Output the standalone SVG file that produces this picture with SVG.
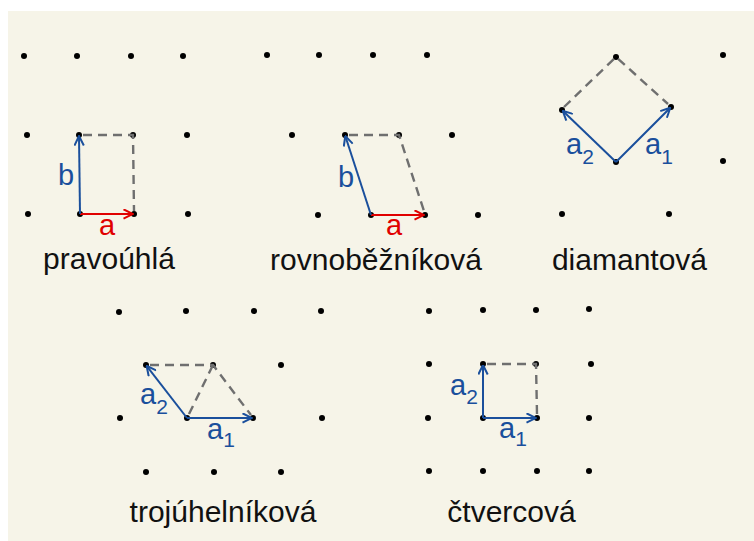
<svg xmlns="http://www.w3.org/2000/svg" width="754" height="541" viewBox="0 0 754 541">
<defs>
<style>
.bg{fill:#f6f4e8}
.dot{fill:#000}
.dash{stroke:#6f6f6f;stroke-width:2.4;stroke-dasharray:9 6;fill:none}
.vb{stroke:#1a4f9c;stroke-width:2;fill:none;marker-end:url(#ab)}
.vr{stroke:#e00000;stroke-width:2;fill:none;marker-end:url(#ar)}
.title{font-family:"Liberation Sans",Arial,sans-serif;font-size:30px;fill:#111;text-anchor:middle}
.lb{font-family:"Liberation Sans",Arial,sans-serif;font-size:29px;fill:#1a4f9c}
.lr{font-family:"Liberation Sans",Arial,sans-serif;font-size:29px;fill:#e00000}
.sub{font-size:21px}
</style>
<marker id="ab" viewBox="0 0 11 11" refX="10.5" refY="5.5" markerWidth="11" markerHeight="11" markerUnits="userSpaceOnUse" orient="auto">
<path d="M1,0.8 L10.5,5.5 L1,10.2" fill="none" stroke="#1a4f9c" stroke-width="2"/>
</marker>
<marker id="ar" viewBox="0 0 11 11" refX="10.5" refY="5.5" markerWidth="11" markerHeight="11" markerUnits="userSpaceOnUse" orient="auto">
<path d="M1,0.8 L10.5,5.5 L1,10.2" fill="none" stroke="#e00000" stroke-width="2"/>
</marker>
</defs>
<rect class="bg" x="8" y="11" width="746" height="530"/>

<g id="pravouhla">
<g class="dot">
<circle cx="24" cy="56" r="3"/><circle cx="77" cy="56" r="3"/><circle cx="131" cy="56" r="3"/><circle cx="183" cy="56" r="3"/>
<circle cx="27" cy="135" r="3"/><circle cx="79" cy="135" r="3"/><circle cx="133" cy="135" r="3"/><circle cx="187" cy="135" r="3"/>
<circle cx="28" cy="214" r="3"/><circle cx="80" cy="214" r="3"/><circle cx="134" cy="214" r="3"/><circle cx="188" cy="214" r="3"/>
</g>
<path class="dash" d="M83,135 L133,135 L134,211"/>
<path class="vr" d="M80,214 L133,214"/>
<path class="vb" d="M80,214 L79,136"/>
<text class="lb" x="58" y="185">b</text>
<text class="lr" x="99" y="235">a</text>
<text class="title" x="109" y="269">pravoúhlá</text>
</g>

<g id="rovnobeznikova">
<g class="dot">
<circle cx="267" cy="55" r="3"/><circle cx="319" cy="55" r="3"/><circle cx="373" cy="55" r="3"/><circle cx="427" cy="55" r="3"/>
<circle cx="292" cy="135" r="3"/><circle cx="345" cy="135" r="3"/><circle cx="399" cy="135" r="3"/><circle cx="452" cy="135" r="3"/>
<circle cx="318" cy="215" r="3"/><circle cx="371" cy="215" r="3"/><circle cx="425" cy="215" r="3"/><circle cx="478" cy="215" r="3"/>
</g>
<path class="dash" d="M349,135 L399,135 L424,211"/>
<path class="vr" d="M371,215 L424,215"/>
<path class="vb" d="M371,215 L345.3,136"/>
<text class="lb" x="338" y="187">b</text>
<text class="lr" x="386" y="235">a</text>
<text class="title" x="376" y="270">rovnoběžníková</text>
</g>

<g id="diamantova">
<g class="dot">
<circle cx="616" cy="57" r="3"/><circle cx="723" cy="55" r="3"/>
<circle cx="562" cy="110" r="3"/><circle cx="671" cy="107" r="3"/>
<circle cx="616" cy="162" r="3"/><circle cx="723" cy="161" r="3"/>
<circle cx="562" cy="214" r="3"/><circle cx="669" cy="214" r="3"/>
</g>
<path class="dash" d="M564,107 L616,57 L668,104"/>
<path class="vb" d="M616,162 L670.3,107.7"/>
<path class="vb" d="M616,162 L562.7,110.7"/>
<text class="lb" x="566" y="154">a<tspan class="sub" dy="10">2</tspan></text>
<text class="lb" x="645" y="154">a<tspan class="sub" dy="10">1</tspan></text>
<text class="title" x="629.5" y="270">diamantová</text>
</g>

<g id="trojuhelnikova">
<g class="dot">
<circle cx="119" cy="312" r="3"/><circle cx="186" cy="311" r="3"/><circle cx="254" cy="311" r="3"/><circle cx="321" cy="311" r="3"/>
<circle cx="146" cy="365" r="3"/><circle cx="213" cy="365" r="3"/><circle cx="281" cy="365" r="3"/>
<circle cx="120" cy="418" r="3"/><circle cx="187" cy="418" r="3"/><circle cx="253" cy="418" r="3"/><circle cx="322" cy="418" r="3"/>
<circle cx="146" cy="472" r="3"/><circle cx="214" cy="472" r="3"/><circle cx="281" cy="472" r="3"/>
</g>
<path class="dash" d="M150,365 L213,365 L251,415"/>
<path class="dash" d="M189,414 L213,365"/>
<path class="vb" d="M187,418 L252,418"/>
<path class="vb" d="M187,418 L146.6,365.8"/>
<text class="lb" x="140" y="404">a<tspan class="sub" dy="10">2</tspan></text>
<text class="lb" x="207" y="439">a<tspan class="sub" dy="8">1</tspan></text>
<text class="title" x="223" y="522">trojúhelníková</text>
</g>

<g id="ctvercova">
<g class="dot">
<circle cx="429" cy="311" r="3"/><circle cx="483" cy="310" r="3"/><circle cx="536" cy="310" r="3"/><circle cx="589" cy="309" r="3"/>
<circle cx="429" cy="364" r="3"/><circle cx="483" cy="364" r="3"/><circle cx="536" cy="364" r="3"/><circle cx="591" cy="364" r="3"/>
<circle cx="428" cy="418" r="3"/><circle cx="483" cy="418" r="3"/><circle cx="537" cy="418" r="3"/><circle cx="589" cy="418" r="3"/>
<circle cx="429" cy="471" r="3"/><circle cx="483" cy="471" r="3"/><circle cx="537" cy="471" r="3"/><circle cx="589" cy="471" r="3"/>
</g>
<path class="dash" d="M487,364 L536,364 L537,414"/>
<path class="vb" d="M483,418 L536,418"/>
<path class="vb" d="M483,418 L483,365"/>
<text class="lb" x="450" y="395">a<tspan class="sub" dy="9">2</tspan></text>
<text class="lb" x="499" y="438">a<tspan class="sub" dy="8">1</tspan></text>
<text class="title" x="511.5" y="522">čtvercová</text>
</g>
</svg>
